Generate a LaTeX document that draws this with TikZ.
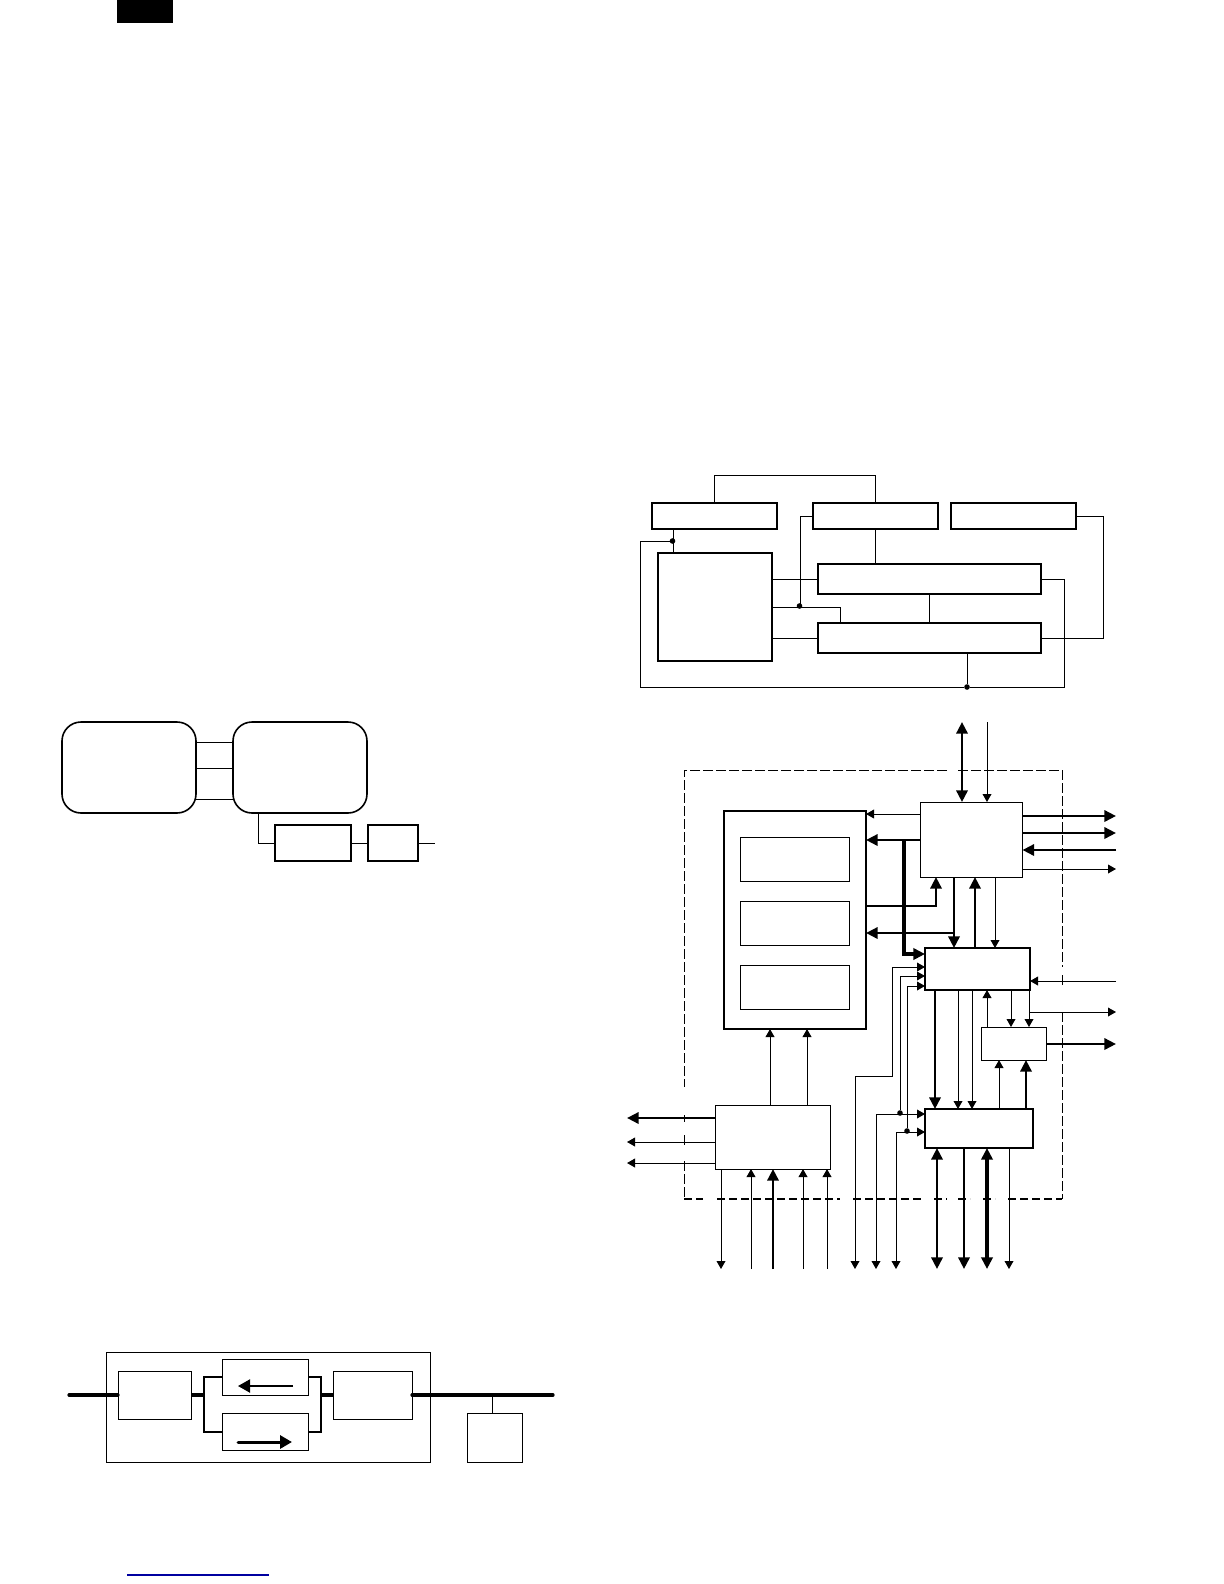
\documentclass[tikz,border=0pt]{standalone}
\usetikzlibrary{arrows.meta}
\newcommand\bx[6]{\node[#1,minimum width={(#5-#3)*0.5pt},minimum height={(#6-#4)*0.5pt}] (#2) at ({(#3+#5)/2},{(#4+#6)/2}) {};}
\tikzset{
  base/.style={draw=black,rectangle,inner sep=0pt,outer sep=0pt},
  thinbox/.style={base,line width=0.5pt},
  midbox/.style={base,line width=0.75pt},
  thickbox/.style={base,line width=0.9pt},
  roundbox/.style={base,line width=0.8pt,rounded corners=9.5pt},
  dot/.style={circle,fill=black,draw=none,inner sep=0pt,outer sep=0pt,minimum size=2.8pt},
  wire/.style={line width=0.5pt,draw=black},
  heavy/.style={line width=1.3pt,draw=black},
  heavier/.style={line width=1.7pt,draw=black},
  bus/.style={line width=1.6pt,draw=black,line cap=round},
  smallhead/.tip={Triangle[length=4pt,width=4.4pt]},
  bighead/.tip={Triangle[length=5.8pt,width=5.6pt]},
  wa/.style={wire,-{smallhead}},
  ha/.style={heavy,-{bighead}},
  hb/.style={heavy,{bighead}-{bighead}},
  hc/.style={heavier,{bighead}-{bighead}},
  dashline/.style={line width=0.5pt,dash pattern=on 5pt off 1.5pt},
  dashbase/.style={line width=0.85pt,dash pattern=on 4pt off 2pt},
}
\begin{document}
\begin{tikzpicture}[x=0.5pt,y=-0.5pt]
\useasboundingbox (0,0) rectangle (1224,1584);
\fill[white] (0,0) rectangle (1224,1584);
\coordinate (topband) at (0,722);
\coordinate (rightend) at (1116,0);
\coordinate (leftend) at (627,0);
\coordinate (botband) at (0,1269);

% header bar and link line
\fill[black] (117,0) rectangle (173,23);
\draw[line width=0.7pt,draw={rgb,255:red,0;green,0;blue,160}] (127,1575) -- (269,1575);

% top-left group
\bx{roundbox}{ra}{62}{722}{196}{813}
\bx{roundbox}{rb}{233}{722}{367}{813}
\bx{thickbox}{rp}{275}{825}{351}{861}
\bx{thickbox}{rq}{368}{825}{418}{861}
\coordinate (rfree) at (435,843);
\draw[wire] (ra.east |- 0,742) -- (rb.west |- 0,742);
\draw[wire] (ra.east |- 0,768) -- (rb.west |- 0,768);
\draw[wire] (ra.east |- 0,799) -- (rb.west |- 0,799);
\draw[wire] (258,0 |- rb.south) -- (258,843) -- (rp.west |- 0,843);
\draw[wire] (rp.east |- 0,843) -- (rq.west |- 0,843);
\draw[wire] (rq.east |- 0,843) -- (rfree);

% bottom-left group
\bx{thinbox}{outer}{106.5}{1352.5}{430}{1462}
\bx{thinbox}{sa}{118}{1371}{191.5}{1419}
\bx{thinbox}{sb}{222}{1359}{308}{1395}
\bx{thinbox}{sc}{222}{1413}{308}{1450}
\bx{thinbox}{sd}{333.5}{1371}{412}{1419}
\bx{thinbox}{se}{467}{1413}{522}{1462}
\coordinate (busl) at (69,1395);
\coordinate (busr) at (553,1395);
\coordinate (jl) at (204,1395);
\coordinate (jr) at (321,1395);
\draw[bus] (busl) -- (sa.west |- busl);
\draw[bus,line cap=butt] (sa.east |- busl) -- (jl);
\draw[bus,line cap=butt] (jr) -- (sd.west |- jr);
\draw[bus] (sd.east |- busr) -- (busr);
\draw[heavy,line join=miter] (sb.west |- 0,1377) -- (204,1377) -- (204,1432) -- (sc.west |- 0,1432);
\draw[heavy,line join=miter] (sb.east |- 0,1377) -- (321,1377) -- (321,1432) -- (sc.east |- 0,1432);
\draw[wire] (492,1395) -- (492,0 |- se.north);
\coordinate (aa) at (293,1386);
\coordinate (ab) at (238,1386);
\coordinate (ac) at (238,1442);
\coordinate (ad) at (292,1442);
\draw[line width=1pt,-{Triangle[length=6pt,width=6.5pt]}] (aa) -- (ab);
\draw[line width=1.5pt,line cap=round,-{Triangle[length=6pt,width=6.5pt]}] (ac) -- (ad);

% upper-right block diagram
\bx{thickbox}{pa}{652}{503}{777}{529}
\bx{thickbox}{pb}{813}{503}{938}{529}
\bx{thickbox}{pc}{951}{503}{1076}{529}
\bx{thickbox}{pd}{658}{553}{772}{661}
\bx{thickbox}{pe}{818}{564}{1041}{594}
\bx{thickbox}{pf}{818}{623}{1041}{653}
\draw[line width=1.3pt] (pf.south west) -- (pf.south east);
\node[dot] (da) at (672.5,541) {};
\node[dot] (db) at (799.5,606) {};
\node[dot] (dc) at (967,687) {};
\draw[wire] (714,0 |- pa.north) -- (714,475) -- (875.5,475) -- (875.5,0 |- pb.north);
\draw[wire] (875.5,0 |- pb.south) -- (875.5,0 |- pe.north);
\draw[wire] (673,0 |- pa.south) -- (673,0 |- pd.north);
\draw[wire] (da) -- (640.5,541) -- (640.5,687) -- (dc);
\draw[wire] (dc) -- (1064,687) -- (1064,579) -- (pe.east |- 0,579);
\draw[wire] (dc |- pf.south) -- (dc);
\draw[wire] (pc.east |- 0,516) -- (1103,516) -- (1103,638) -- (pf.east |- 0,638);
\draw[wire] (pd.east |- 0,579) -- (pe.west |- 0,579);
\draw[wire] (pd.east |- 0,638) -- (pf.west |- 0,638);
\draw[wire] (pd.east |- 0,607) -- (840,607) -- (840,0 |- pf.north);
\draw[wire] (pb.west |- 0,516) -- (800,516) -- (800,606);
\draw[wire] (929,0 |- pe.south) -- (929,0 |- pf.north);

% lower-right dashed enclosure
\draw[dashline] (947,770) -- (684,770) -- (684,1087);
\draw[dashline] (958,770) -- (1062,770) -- (1062,967);
\draw[wire] (1062,975) -- (1062,985);
\draw[dashline] (1062,1012) -- (1062,1199);
\draw[wire] (684,1115) -- (684,1122);
\draw[dashline] (684,1135) -- (684,1148);
\draw[dashline] (684,1161) -- (684,1199);
\draw[dashbase] (684,1199) -- (703,1199);
\draw[dashbase] (717,1199) -- (840,1199);
\draw[dashbase] (853,1199) -- (923,1199);
\draw[dashbase] (934,1199) -- (947,1199);
\draw[dashbase] (958,1199) -- (970,1199);
\draw[dashbase] (983,1199) -- (995,1199);
\draw[dashbase] (1008,1199) -- (1062,1199);

% lower-right blocks
\bx{midbox}{mg}{724}{811}{866}{1029}
\bx{thinbox}{mga}{740}{837}{849}{881}
\bx{thinbox}{mgb}{740}{901}{849}{945}
\bx{thinbox}{mgc}{740}{965}{849}{1009}
\bx{thinbox}{mh}{920}{802}{1022.5}{877}
\bx{midbox}{mi}{925}{948}{1030}{990}
\bx{thinbox}{mj}{981.5}{1027}{1046.5}{1060}
\bx{midbox}{mk}{925}{1109}{1033}{1148}
\bx{thinbox}{ml}{715.5}{1105}{830}{1169}
\node[dot] (de) at (900,1113) {};
\node[dot] (df) at (907,1131) {};

% into/out of mh
\draw[hb] (962,0 |- topband) -- (962,0 |- mh.north);
\draw[wa] (987,0 |- topband) -- (987,0 |- mh.north);
\draw[wa] (mh.west |- 0,814) -- (mg.east |- 0,814);
\draw[ha] (mh.west |- 0,840) -- (mg.east |- 0,840);
\draw[heavier,line join=miter,-{bighead}] (904,840) -- (904,954) -- (mi.west |- 0,954);
\draw[ha] (mg.east |- 0,906) -- (936,906) -- (936,0 |- mh.south);
\draw[ha] (954,0 |- mh.south) -- (954,0 |- mi.north);
\draw[ha] (954,933) -- (mg.east |- 0,933);
\draw[ha] (975,0 |- mi.north) -- (975,0 |- mh.south);
\draw[wa] (995,0 |- mh.south) -- (995,0 |- mi.north);
\draw[ha] (mh.east |- 0,816) -- (rightend |- 0,816);
\draw[ha] (mh.east |- 0,833) -- (rightend |- 0,833);
\draw[ha] (rightend |- 0,850) -- (mh.east |- 0,850);
\draw[wa] (mh.east |- 0,869) -- (rightend |- 0,869);

% mi connections
\draw[wa] (rightend |- 0,981) -- (mi.east |- 0,981);
\draw[wa] (1029,1012) -- (rightend |- 0,1012);
\draw[wa] (1029,0 |- mi.south) -- (1029,0 |- mj.north);
\draw[wa] (1011,0 |- mi.south) -- (1011,0 |- mj.north);
\draw[wa] (987,0 |- mj.north) -- (987,0 |- mi.south);
\draw[ha] (mj.east |- 0,1044) -- (rightend |- 0,1044);

% left inputs to mi
\draw[wire,{smallhead}-{smallhead}] (855,0 |- botband) -- (855,1076) -- (892,1076) -- (892,967) -- (mi.west |- 0,967);
\draw[wa] (de) -- (900,976) -- (mi.west |- 0,976);
\draw[wa] (df) -- (907,986) -- (mi.west |- 0,986);
\draw[wire,{smallhead}-{smallhead}] (876,0 |- botband) -- (876,1114) -- (mk.west |- 0,1114);
\draw[wire,{smallhead}-{smallhead}] (896,0 |- botband) -- (896,1132) -- (mk.west |- 0,1132);

% mi to mk, mk to mj
\draw[ha] (935,0 |- mi.south) -- (935,0 |- mk.north);
\draw[wa] (958,0 |- mi.south) -- (958,0 |- mk.north);
\draw[wa] (972,0 |- mi.south) -- (972,0 |- mk.north);
\draw[wa] (999,0 |- mk.north) -- (999,0 |- mj.south);
\draw[ha] (1026,0 |- mk.north) -- (1026,0 |- mj.south);

% mk bottom
\draw[hb] (937,0 |- mk.south) -- (937,0 |- botband);
\draw[ha] (964,0 |- mk.south) -- (964,0 |- botband);
\draw[hc] (987,0 |- mk.south) -- (987,0 |- botband);
\draw[wa] (1009,0 |- mk.south) -- (1009,0 |- botband);

% ml connections
\draw[wa] (770,0 |- ml.north) -- (770,0 |- mg.south);
\draw[wa] (807,0 |- ml.north) -- (807,0 |- mg.south);
\draw[ha] (ml.west |- 0,1118) -- (leftend |- 0,1118);
\draw[wa] (ml.west |- 0,1142) -- (leftend |- 0,1142);
\draw[wa] (ml.west |- 0,1163) -- (leftend |- 0,1163);
\draw[wa] (721,0 |- ml.south) -- (721,0 |- botband);
\draw[wa] (751,0 |- botband) -- (751,0 |- ml.south);
\draw[ha] (773,0 |- botband) -- (773,0 |- ml.south);
\draw[wa] (803,0 |- botband) -- (803,0 |- ml.south);
\draw[wa] (827,0 |- botband) -- (827,0 |- ml.south);
\end{tikzpicture}
\end{document}
